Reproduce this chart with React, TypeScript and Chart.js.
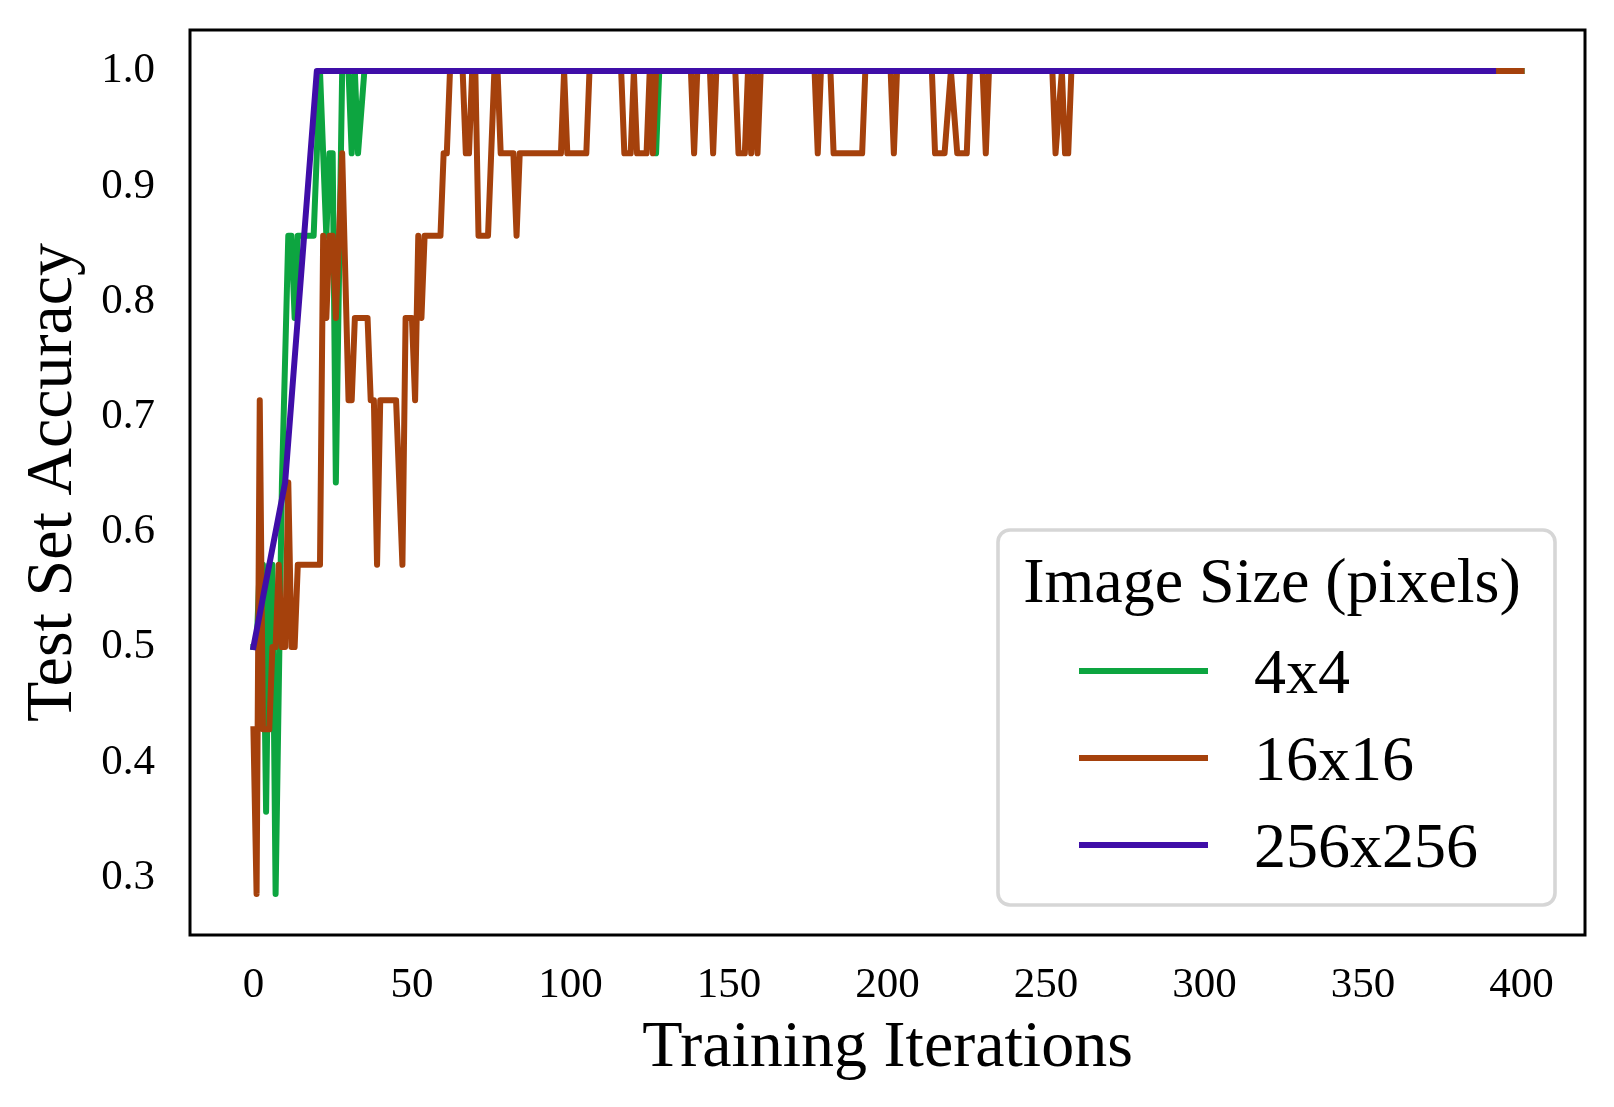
import React, { useEffect, useRef } from "react";
import { Chart, registerables } from "chart.js";

Chart.register(...registerables);

// ---------- data ----------
const SERIES_LABELS = ["4x4", "16x16", "256x256"];
const SERIES_COLORS = ["#0da540", "#a5410c", "#3f0ea8"];

// 4x4 (vertices of the plotted line)
const X_4 = [0, 1, 2, 3, 4, 5, 6, 7, 9, 11, 12, 13, 14, 19, 21, 23, 24, 25, 26, 28, 30, 31, 32, 33, 35, 126, 127, 128, 400];
const Y_4 = [0.5, 0.5, 0.5714, 0.5714, 0.3571, 0.5714, 0.5714, 0.2857, 0.6429, 0.8571, 0.8571, 0.7857, 0.8571, 0.8571, 1.0, 0.8571, 0.9286, 0.9286, 0.6429, 1.0, 1.0, 0.9286, 1.0, 0.9286, 1.0, 1.0, 0.9286, 1.0, 1.0];

// 16x16
const X_16 = [
  0, 1, 2, 3, 5, 6, 7, 8, 9, 10, 11, 12, 13, 14, 20, 21, 22, 23, 24, 25, 26, 28, 30, 31, 32, 36, 37, 38, 39, 40,
  45, 47, 48, 50, 51, 52, 53, 54, 59, 60, 61, 62, 66, 67, 68, 69, 70, 71, 74, 76, 77, 78, 82, 83, 84, 97, 98, 99,
  105, 106, 116, 117, 119, 120, 121, 124, 125, 126, 127, 138, 139, 140, 144, 145, 146, 152, 153, 155, 156, 157,
  158, 159, 160, 177, 178, 179, 182, 183, 192, 193, 201, 202, 203, 214, 215, 218, 220, 222, 225, 226, 230, 231,
  232, 252, 253, 255, 256, 257, 258, 400,
];
const Y_16 = [
  0.4286, 0.2857, 0.7143, 0.4286, 0.4286, 0.5, 0.5, 0.5714, 0.5, 0.5, 0.6429, 0.5, 0.5, 0.5714, 0.5714, 0.5714,
  0.8571, 0.7857, 0.8571, 0.8571, 0.7857, 0.9286, 0.7143, 0.7143, 0.7857, 0.7857, 0.7143, 0.7143, 0.5714, 0.7143,
  0.7143, 0.5714, 0.7857, 0.7857, 0.7143, 0.8571, 0.7857, 0.8571, 0.8571, 0.9286, 0.9286, 1.0, 1.0, 0.9286, 0.9286,
  1.0, 1.0, 0.8571, 0.8571, 1.0, 1.0, 0.9286, 0.9286, 0.8571, 0.9286, 0.9286, 1.0, 0.9286, 0.9286, 1.0, 1.0,
  0.9286, 0.9286, 1.0, 0.9286, 0.9286, 1.0, 0.9286, 1.0, 1.0, 0.9286, 1.0, 1.0, 0.9286, 1.0, 1.0, 0.9286, 0.9286,
  1.0, 0.9286, 1.0, 0.9286, 1.0, 1.0, 0.9286, 1.0, 1.0, 0.9286, 0.9286, 1.0, 1.0, 0.9286, 1.0, 1.0, 0.9286, 0.9286,
  1.0, 0.9286, 0.9286, 1.0, 1.0, 0.9286, 1.0, 1.0, 0.9286, 1.0, 0.9286, 0.9286, 1.0, 1.0,
];

// 256x256
const X_256 = [0, 10, 20, 391];
const Y_256 = [0.5, 0.6429, 1.0, 1.0];

const X_TICKS = [0, 50, 100, 150, 200, 250, 300, 350, 400];
const Y_TICKS = [0.3, 0.4, 0.5, 0.6, 0.7, 0.8, 0.9, 1.0];
const X_RANGE = [-20, 420];
const Y_RANGE = [0.25, 1.0357];

const X_LABEL = "Training Iterations";
const Y_LABEL = "Test Set Accuracy";
const LEGEND_TITLE = "Image Size (pixels)";

const FONT = '"Liberation Serif", "Times New Roman", serif';
const LINE_W = 6;

const zip = (xs: number[], ys: number[]) => xs.map((x, i) => ({ x, y: ys[i] }));

const spinePlugin = {
  id: "spines",
  afterDatasetsDraw(chart: any) {
    const { ctx, chartArea } = chart;
    ctx.save();
    ctx.strokeStyle = "#000";
    ctx.lineWidth = 3;
    ctx.strokeRect(chartArea.left, chartArea.top, chartArea.right - chartArea.left, chartArea.bottom - chartArea.top);
    ctx.restore();
  },
};

const legendPlugin = {
  id: "boxLegend",
  afterDraw(chart: any) {
    const { ctx, chartArea } = chart;
    const w = 557;
    const h = 375;
    const right = chartArea.right - 30;
    const bottom = chartArea.bottom - 30;
    const left = right - w;
    const top = bottom - h;
    const r = 12;
    ctx.save();
    ctx.beginPath();
    ctx.moveTo(left + r, top);
    ctx.lineTo(right - r, top);
    ctx.arcTo(right, top, right, top + r, r);
    ctx.lineTo(right, bottom - r);
    ctx.arcTo(right, bottom, right - r, bottom, r);
    ctx.lineTo(left + r, bottom);
    ctx.arcTo(left, bottom, left, bottom - r, r);
    ctx.lineTo(left, top + r);
    ctx.arcTo(left, top, left + r, top, r);
    ctx.closePath();
    ctx.fillStyle = "rgba(255,255,255,0.85)";
    ctx.fill();
    ctx.strokeStyle = "#d6d6d6";
    ctx.lineWidth = 3.6;
    ctx.stroke();

    ctx.fillStyle = "#000";
    ctx.font = `64px ${FONT}`;
    ctx.textAlign = "center";
    ctx.textBaseline = "alphabetic";
    ctx.fillText(LEGEND_TITLE, left + 274, top + 72);

    chart.data.datasets.forEach((ds: any, i: number) => {
      const yLine = top + 141 + i * 87;
      ctx.beginPath();
      ctx.strokeStyle = ds.borderColor;
      ctx.lineWidth = LINE_W;
      ctx.lineCap = "butt";
      ctx.moveTo(left + 81, yLine);
      ctx.lineTo(left + 210, yLine);
      ctx.stroke();
      ctx.fillStyle = "#000";
      ctx.textAlign = "left";
      ctx.fillText(ds.label, left + 256, yLine + 22);
    });
    ctx.restore();
  },
};

export default function App() {
  const ref = useRef<HTMLCanvasElement | null>(null);

  useEffect(() => {
    if (!ref.current) return;
    const series = [
      { xs: X_4, ys: Y_4, order: 2 },
      { xs: X_16, ys: Y_16, order: 1 },
      { xs: X_256, ys: Y_256, order: 0 },
    ];
    const chart = new Chart(ref.current, {
      type: "line",
      data: {
        datasets: series.map((s, i) => ({
          label: SERIES_LABELS[i],
          data: zip(s.xs, s.ys),
          borderColor: SERIES_COLORS[i],
          backgroundColor: SERIES_COLORS[i],
          borderWidth: LINE_W,
          borderJoinStyle: "round",
          borderCapStyle: "square",
          pointRadius: 0,
          tension: 0,
          fill: false,
          order: s.order,
        })),
      },
      options: {
        animation: false,
        responsive: false,
        devicePixelRatio: 1,
        layout: { padding: { left: 0, right: 29, top: 30, bottom: 0 } },
        plugins: { legend: { display: false }, tooltip: { enabled: false } },
        scales: {
          x: {
            type: "linear",
            min: X_RANGE[0],
            max: X_RANGE[1],
            grid: { display: false, drawTicks: false },
            border: { display: false },
            afterBuildTicks: (scale: any) => {
              scale.ticks = X_TICKS.map((v) => ({ value: v }));
            },
            afterFit: (scale: any) => {
              scale.height = 172;
              scale.paddingLeft = 0;
              scale.paddingRight = 0;
            },
            ticks: {
              color: "#000",
              padding: 25,
              maxRotation: 0,
              autoSkip: false,
              font: { family: FONT, size: 43 },
              callback: (v: any) => String(v),
            },
            title: {
              display: true,
              text: X_LABEL,
              color: "#000",
              font: { family: FONT, size: 66 },
              padding: { top: 0, bottom: 19 },
            },
          },
          y: {
            type: "linear",
            min: Y_RANGE[0],
            max: Y_RANGE[1],
            grid: { display: false, drawTicks: false },
            border: { display: false },
            afterBuildTicks: (scale: any) => {
              scale.ticks = Y_TICKS.map((v) => ({ value: v }));
            },
            afterFit: (scale: any) => {
              scale.width = 190;
              scale.paddingTop = 0;
              scale.paddingBottom = 0;
            },
            ticks: {
              color: "#000",
              padding: 35,
              autoSkip: false,
              font: { family: FONT, size: 43 },
              callback: (v: any) => Number(v).toFixed(1),
            },
            title: {
              display: true,
              text: Y_LABEL,
              color: "#000",
              font: { family: FONT, size: 66 },
              padding: { top: 14, bottom: 0 },
            },
          },
        },
      },
      plugins: [spinePlugin, legendPlugin],
    } as any);
    return () => chart.destroy();
  }, []);

  return (
    <div style={{ position: "absolute", left: 0, top: 0, width: 1614, height: 1107, background: "#fff" }}>
      <canvas ref={ref} width={1614} height={1107} style={{ display: "block", width: 1614, height: 1107 }} />
    </div>
  );
}
